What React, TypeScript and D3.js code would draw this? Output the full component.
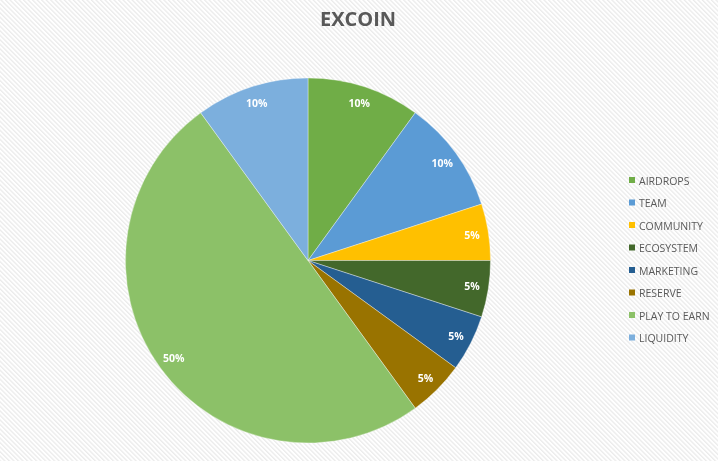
import React from "react";
import * as d3 from "d3";

const categories = ["AIRDROPS", "TEAM", "COMMUNITY", "ECOSYSTEM", "MARKETING", "RESERVE", "PLAY TO EARN", "LIQUIDITY"];
const values = [10, 10, 5, 5, 5, 5, 50, 10];
const colors = ["#70AD47", "#5B9BD5", "#FFC000", "#43682B", "#255E91", "#997300", "#8CC168", "#7CAFDD"];
const title = "EXCOIN";

const W = 718;
const H = 461;

export default function App() {
  const cx = 308;
  const cy = 260.5;
  const r = 182.5;
  const total = d3.sum(values);
  const pie = d3.pie<number>().sort(null).value((d) => d)(values);
  const arc = d3.arc<d3.PieArcDatum<number>>().innerRadius(0).outerRadius(r);
  const labelArc = d3.arc<d3.PieArcDatum<number>>().innerRadius(166).outerRadius(166);
  const legendY = d3.scalePoint<string>().domain(categories).range([180.5, 338]);
  const font = "'Open Sans', 'Liberation Sans', sans-serif";

  return (
    <svg
      width={W}
      height={H}
      style={{ position: "fixed", left: 0, top: 0, display: "block" }}
      fontFamily={font}
    >
      <defs>
        <pattern id="stripes" width="3.2" height="3.2" patternUnits="userSpaceOnUse" patternTransform="rotate(-45)">
          <rect width="3.2" height="3.2" fill="#ffffff" />
          <rect width="1.3" height="3.2" fill="#ebebeb" />
        </pattern>
      </defs>
      <rect x={0} y={0} width={W} height={H} fill="url(#stripes)" />
      <text x={358} y={26} textAnchor="middle" fontSize={20} fontWeight="bold" fill="#595959">
        {title}
      </text>
      <g transform={`translate(${cx},${cy})`}>
        {pie.map((d, i) => (
          <path key={i} d={arc(d) || ""} fill={colors[i]} stroke="#ffffff" strokeWidth={0.6} strokeOpacity={0.6} />
        ))}
        {pie.map((d, i) => {
          const [x, y] = labelArc.centroid(d);
          return (
            <text
              key={"l" + i}
              x={x}
              y={y}
              textAnchor="middle"
              dominantBaseline="central"
              fontSize={10.5}
              fontWeight="bold"
              fill="#ffffff"
            >
              {Math.round((d.data / total) * 100)}%
            </text>
          );
        })}
      </g>
      <g>
        {categories.map((c, i) => (
          <g key={c} transform={`translate(629,${legendY(c)})`}>
            <rect x={0} y={-3.5} width={6} height={6} fill={colors[i]} />
            <text x={10} y={0} dominantBaseline="central" fontSize={10.5} fill="#595959">
              {c}
            </text>
          </g>
        ))}
      </g>
    </svg>
  );
}
